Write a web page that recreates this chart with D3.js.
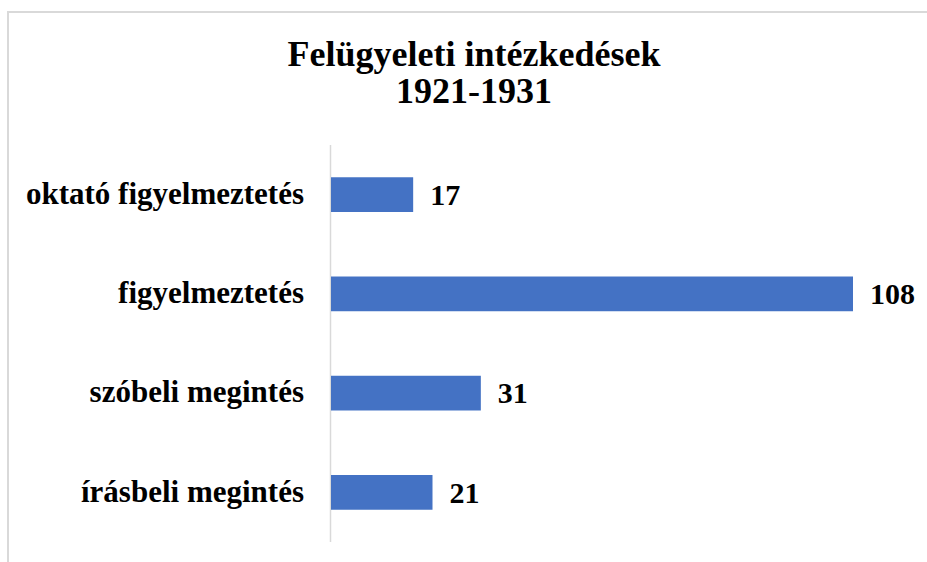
<!DOCTYPE html>
<html>
<head>
<meta charset="utf-8">
<script src="https://cdn.jsdelivr.net/npm/d3@7"></script>
<style>
  body { margin: 0; background: #fff; }
  text { font-family: "Liberation Serif", "Times New Roman", serif; font-weight: bold; fill: #000; }
</style>
</head>
<body>
<div id="chart"></div>
<script>
// data
var categories = ["oktató figyelmeztetés", "figyelmeztetés", "szóbeli megintés", "írásbeli megintés"];
var values = [17, 108, 31, 21];
var titleLines = ["Felügyeleti intézkedések", "1921-1931"];

var width = 927, height = 562;

var svg = d3.select("#chart")
    .append("svg")
    .attr("width", width)
    .attr("height", height);

// chart frame (cut off at right and bottom like the screenshot)
svg.append("rect")
    .attr("x", 8)
    .attr("y", 12)
    .attr("width", 940)
    .attr("height", 600)
    .attr("fill", "none")
    .attr("stroke", "#d9d9d9")
    .attr("stroke-width", 2);

svg.selectAll(".title")
    .data(titleLines)
    .enter()
    .append("text")
    .attr("class", "title")
    .attr("x", 474)
    .attr("y", function(d, i) { return 66 + i * 37; })
    .attr("text-anchor", "middle")
    .style("font-size", "36px")
    .text(function(d) { return d; });

var x = d3.scaleLinear()
    .domain([0, 108])
    .range([331, 853]);

var y = d3.scaleBand()
    .domain(categories)
    .range([145, 542])
    .paddingInner(0.65)
    .paddingOuter(0.325);

// category axis line
svg.append("line")
    .attr("x1", 330.5)
    .attr("x2", 330.5)
    .attr("y1", 145)
    .attr("y2", 542)
    .attr("stroke", "#d9d9d9")
    .attr("stroke-width", 1.5);

var rows = categories.map(function(c, i) { return { category: c, value: values[i] }; });

svg.selectAll(".bar")
    .data(rows)
    .enter()
    .append("rect")
    .attr("class", "bar")
    .attr("x", x(0))
    .attr("y", function(d) { return y(d.category); })
    .attr("width", function(d) { return x(d.value) - x(0); })
    .attr("height", y.bandwidth())
    .attr("fill", "#4472c4");

svg.selectAll(".value")
    .data(rows)
    .enter()
    .append("text")
    .attr("class", "value")
    .attr("x", function(d) { return x(d.value) + 17; })
    .attr("y", function(d) { return y(d.category) + y.bandwidth() / 2; })
    .attr("dy", "0.34em")
    .style("font-size", "30px")
    .text(function(d) { return d.value; });

svg.selectAll(".cat")
    .data(rows)
    .enter()
    .append("text")
    .attr("class", "cat")
    .attr("x", 304)
    .attr("y", function(d) { return y(d.category) + y.bandwidth() / 2; })
    .attr("dy", "0.3em")
    .attr("text-anchor", "end")
    .style("font-size", "31px")
    .text(function(d) { return d.category; });
</script>
</body>
</html>
